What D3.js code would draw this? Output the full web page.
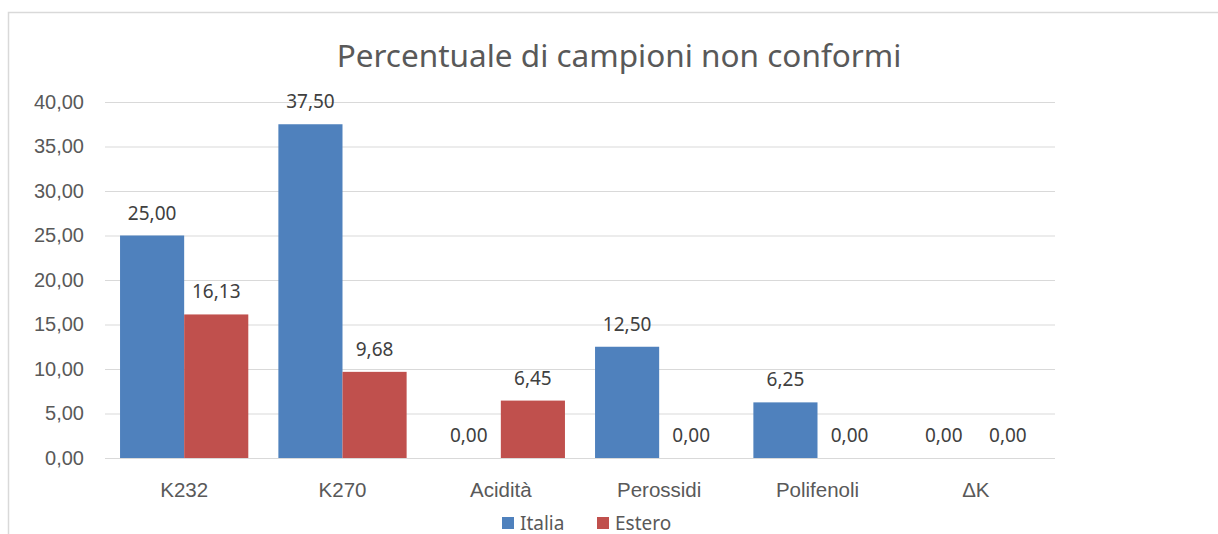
<!DOCTYPE html>
<html>
  <head>
    <meta charset="utf-8">
    <script src="https://d3js.org/d3.v7.min.js"></script>
    <style>
      body { margin: 0; background: #fff; }
      svg { display: block; font-family: "Noto Sans", "Open Sans", sans-serif; }
      .y .tick text, .x .tick text { fill: #595959; }
      .grid line { stroke: #d9d9d9; stroke-width: 1; }
    </style>
  </head>
  <body>
    <script>
      // chart data
      var categories = ["K232", "K270", "Acidità", "Perossidi", "Polifenoli", "ΔK"];
      var series = ["Italia", "Estero"];
      var italia = [25.00, 37.50, 0.00, 12.50, 6.25, 0.00];
      var estero = [16.13, 9.68, 6.45, 0.00, 0.00, 0.00];
      var yTicks = [0, 5, 10, 15, 20, 25, 30, 35, 40];
      var colors = ["#4f81bd", "#c0504d"];

      var W = 1218, H = 534;
      var plot = {left: 105, right: 1055, top: 102, bottom: 458};

      var it = d3.formatLocale({decimal: ",", thousands: ".", grouping: [3], currency: ["", "€"]});
      var fmt = it.format(".2f");

      var svg = d3.select("body").append("svg")
          .attr("width", W)
          .attr("height", H);

      // chart border (runs off the right / bottom edge)
      svg.append("rect")
          .attr("x", 8.5).attr("y", 12.5)
          .attr("width", 1240).attr("height", 560)
          .attr("fill", "none")
          .attr("stroke", "#d9d9d9")
          .attr("stroke-width", 1.5);

      svg.append("text")
          .attr("x", 619).attr("y", 67)
          .attr("text-anchor", "middle")
          .attr("font-size", 31.5)
          .attr("fill", "#595959")
          .text("Percentuale di campioni non conformi");

      var x0 = d3.scaleBand()
          .domain(categories)
          .range([plot.left, plot.right])
          .paddingInner(0.19)
          .paddingOuter(0.095);

      var x1 = d3.scaleBand()
          .domain(series)
          .range([0, x0.bandwidth()]);

      var y = d3.scaleLinear()
          .domain([0, 40])
          .range([plot.bottom, plot.top]);

      // gridlines
      svg.append("g")
          .attr("class", "grid")
          .attr("transform", "translate(" + plot.left + ",0)")
          .call(d3.axisLeft(y).tickValues(yTicks).tickSize(-(plot.right - plot.left)).tickFormat(""))
          .call(function(g) { g.select(".domain").remove(); });

      svg.append("g")
          .attr("class", "y")
          .attr("transform", "translate(" + plot.left + ",0)")
          .call(d3.axisLeft(y).tickValues(yTicks).tickSize(0).tickPadding(21).tickFormat(fmt))
          .call(function(g) {
            g.select(".domain").remove();
            g.selectAll("text").attr("font-size", 20).attr("font-family", null);
          });

      svg.append("g")
          .attr("class", "x")
          .attr("transform", "translate(0," + plot.bottom + ")")
          .call(d3.axisBottom(x0).tickSize(0).tickPadding(24))
          .call(function(g) {
            g.select(".domain").remove();
            g.selectAll("text").attr("font-size", 20.5).attr("font-family", null);
          });

      var rows = categories.map(function(c, i) {
        return {cat: c, vals: [
          {s: "Italia", v: italia[i], c: colors[0]},
          {s: "Estero", v: estero[i], c: colors[1]}
        ]};
      });

      var groups = svg.selectAll(".grp")
        .data(rows)
        .enter().append("g")
          .attr("class", "grp")
          .attr("transform", function(d) { return "translate(" + x0(d.cat) + ",0)"; });

      groups.selectAll("rect")
        .data(function(d) { return d.vals; })
        .enter().append("rect")
          .attr("x", function(d) { return x1(d.s); })
          .attr("y", function(d) { return y(d.v); })
          .attr("width", x1.bandwidth())
          .attr("height", function(d) { return y(0) - y(d.v); })
          .attr("fill", function(d) { return d.c; });

      groups.selectAll("text")
        .data(function(d) { return d.vals; })
        .enter().append("text")
          .attr("x", function(d) { return x1(d.s) + x1.bandwidth() / 2; })
          .attr("y", function(d) { return y(d.v) - 16; })
          .attr("text-anchor", "middle")
          .attr("font-size", 19)
          .attr("fill", "#404040")
          .text(function(d) { return fmt(d.v); });

      // legend
      var legendX = [502, 597];
      var legend = svg.selectAll(".leg")
        .data(series)
        .enter().append("g")
          .attr("class", "leg")
          .attr("transform", function(d, i) { return "translate(" + legendX[i] + ",517)"; });

      legend.append("rect")
          .attr("width", 12).attr("height", 12)
          .attr("fill", function(d, i) { return colors[i]; });

      legend.append("text")
          .attr("x", 18).attr("y", 12.5)
          .attr("font-size", 19)
          .attr("fill", "#595959")
          .text(function(d) { return d; });
    </script>
  </body>
</html>
